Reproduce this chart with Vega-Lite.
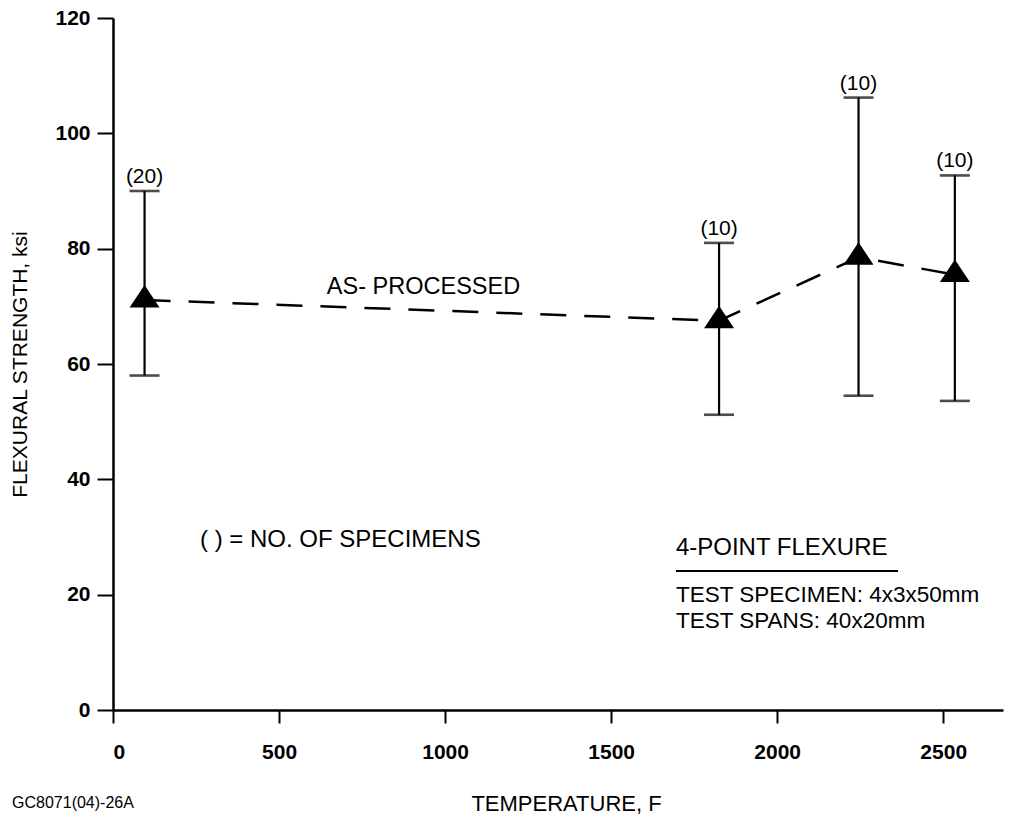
{
  "$schema": "https://vega.github.io/schema/vega-lite/v6.json",
  "width": 890,
  "height": 692,
  "autosize": {"type": "none"},
  "padding": {"left": 113, "top": 18, "right": 20, "bottom": 128},
  "background": "white",
  "config": {
    "view": {"stroke": null},
    "font": "Liberation Sans",
    "axis": {
      "domainColor": "black", "domainWidth": 2.5, "tickColor": "black", "tickWidth": 2,
      "labelColor": "black", "titleColor": "black", "grid": false,
      "labelFont": "Liberation Sans", "titleFont": "Liberation Sans", "titleFontWeight": "normal"
    },
    "text": {"font": "Liberation Sans", "color": "black"}
  },
  "datasets": {
    "pts": [
      {"temp": 95, "mean": 71.1, "lo": 58.0, "hi": 90.0, "n": "(20)"},
      {"temp": 1825, "mean": 67.5, "lo": 51.2, "hi": 81.0, "n": "(10)"},
      {"temp": 2245, "mean": 78.5, "lo": 54.5, "hi": 106.2, "n": "(10)"},
      {"temp": 2535, "mean": 75.5, "lo": 53.6, "hi": 92.7, "n": "(10)"}
    ],
    "notes": [
      {"x": 644, "y": 73.4, "label": "AS- PROCESSED", "size": 23.5, "weight": "normal"},
      {"x": 262, "y": 29.4, "label": "( ) = NO. OF SPECIMENS", "size": 24, "weight": "normal"},
      {"x": 1695, "y": 28.1, "label": "4-POINT FLEXURE", "size": 24, "weight": "normal"},
      {"x": 1695, "y": 20.0, "label": "TEST SPECIMEN:  4x3x50mm", "size": 22.5, "weight": "normal"},
      {"x": 1695, "y": 15.4, "label": "TEST SPANS:  40x20mm", "size": 22.5, "weight": "normal"},
      {"x": -304, "y": -16.1, "label": "GC8071(04)-26A", "size": 16, "weight": "bold"}
    ],
    "underline": [
      {"x": 1695, "x2": 2364, "y": 24.1}
    ]
  },
  "layer": [
    {
      "data": {"name": "pts"},
      "mark": {"type": "line", "color": "black", "strokeWidth": 2.5, "strokeDash": [26, 18]},
      "encoding": {
        "x": {
          "field": "temp", "type": "quantitative",
          "scale": {"domain": [0, 2680], "nice": false, "zero": false},
          "axis": {
            "values": [0, 500, 1000, 1500, 2000, 2500], "format": "d",
            "tickSize": 13, "labelPadding": 18, "labelFontSize": 21, "labelFontWeight": "bold",
            "title": "TEMPERATURE, F", "titleFontSize": 22,
            "titleX": 453, "titleY": 93, "titleBaseline": "middle", "titleAlign": "center"
          }
        },
        "y": {
          "field": "mean", "type": "quantitative",
          "title": "FLEXURAL STRENGTH, ksi",
          "scale": {"domain": [0, 120], "nice": false, "zero": false},
          "axis": {
            "values": [0, 20, 40, 60, 80, 100, 120],
            "tickSize": 16, "labelPadding": 7, "labelFontSize": 21, "labelFontWeight": "bold",
            "titleFontSize": 21,
            "titleX": -93, "titleY": 346, "titleAngle": 270,
            "titleBaseline": "middle", "titleAlign": "center"
          }
        }
      }
    },
    {
      "data": {"name": "pts"},
      "mark": {
        "type": "errorbar", "color": "black",
        "ticks": {"size": 30, "thickness": 2.6, "color": "black"},
        "rule": {"strokeWidth": 2.2, "color": "black"}
      },
      "encoding": {
        "x": {"field": "temp", "type": "quantitative", "title": "TEMPERATURE, F"},
        "y": {"field": "lo", "type": "quantitative", "title": "FLEXURAL STRENGTH, ksi"},
        "y2": {"field": "hi"}
      }
    },
    {
      "data": {"name": "pts"},
      "mark": {"type": "point", "shape": "M0,-1L-1,0.5L1,0.5Z", "size": 900, "filled": true, "color": "black", "opacity": 1},
      "encoding": {
        "x": {"field": "temp", "type": "quantitative", "title": "TEMPERATURE, F"},
        "y": {"field": "mean", "type": "quantitative", "title": "FLEXURAL STRENGTH, ksi"}
      }
    },
    {
      "data": {"name": "pts"},
      "mark": {"type": "text", "baseline": "bottom", "dy": -4, "fontSize": 21, "align": "center"},
      "encoding": {
        "x": {"field": "temp", "type": "quantitative", "title": "TEMPERATURE, F"},
        "y": {"field": "hi", "type": "quantitative", "title": "FLEXURAL STRENGTH, ksi"},
        "text": {"field": "n"}
      }
    },
    {
      "data": {"name": "notes"},
      "mark": {"type": "text", "align": "left", "baseline": "middle"},
      "encoding": {
        "x": {"field": "x", "type": "quantitative", "title": "TEMPERATURE, F"},
        "y": {"field": "y", "type": "quantitative", "title": "FLEXURAL STRENGTH, ksi"},
        "text": {"field": "label"},
        "size": {"field": "size", "type": "quantitative", "scale": null, "legend": null},
        "fontWeight": {"field": "weight", "type": "nominal", "scale": null, "legend": null}
      }
    },
    {
      "data": {"name": "underline"},
      "mark": {"type": "rule", "color": "black", "strokeWidth": 2},
      "encoding": {
        "x": {"field": "x", "type": "quantitative", "title": "TEMPERATURE, F"},
        "x2": {"field": "x2"},
        "y": {"field": "y", "type": "quantitative", "title": "FLEXURAL STRENGTH, ksi"}
      }
    }
  ]
}
